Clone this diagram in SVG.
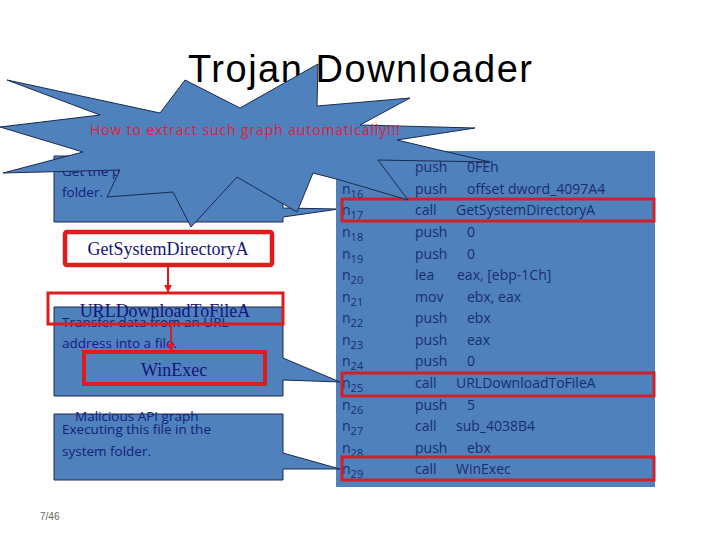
<svg xmlns="http://www.w3.org/2000/svg" width="720" height="540" viewBox="0 0 720 540">
<style>
.blue{fill:#4f81bd;stroke:#1a2a50;stroke-width:1}
.lbl{font-family:"Open Sans","Liberation Sans",Arial,sans-serif;font-size:13.5px;fill:#14207a}
.code{font-family:"Open Sans","Liberation Sans",Arial,sans-serif;font-size:14px;fill:#1b2d6e}
.api{font-family:"Liberation Serif","Times New Roman",serif;font-size:18px;fill:#14147a}
.red{fill:none;stroke:#e01b1b}
.hl{fill:none;stroke:#d0202a;stroke-width:3}
</style>
<defs><marker id="ar" viewBox="0 0 10 10" refX="9" refY="5" markerWidth="4" markerHeight="4" orient="auto"><path d="M0,0 L10,5 L0,10 Z" fill="#e01b1b"/></marker></defs>
<rect width="720" height="540" fill="#fff"/>
<text x="360" y="82" text-anchor="middle" font-family="Liberation Sans,Arial,sans-serif" font-size="38" textLength="344" fill="#000">Trojan Downloader</text>
<g id="callout1"><path class="blue" d="M54,156 H283 V208 L339,209 L283,217 V222 H54 Z"/>
<text class="lbl" x="62" y="176">Get the path of the system</text><text class="lbl" x="62" y="197">folder.</text></g>
<g id="panel"><rect x="336" y="151" width="319" height="336" fill="#4f81bd"/>
<g class="code">
<text x="415" y="172">push</text><text x="467" y="172">0FEh</text>
<text x="342" y="194">n<tspan font-size="11" dy="4">16</tspan></text><text x="415" y="194">push</text><text x="467" y="194">offset dword_4097A4</text>
<text x="342" y="215">n<tspan font-size="11" dy="4">17</tspan></text><text x="415" y="215">call</text><text x="456" y="215">GetSystemDirectoryA</text>
<text x="342" y="237">n<tspan font-size="11" dy="4">18</tspan></text><text x="415" y="237">push</text><text x="467" y="237">0</text>
<text x="342" y="259">n<tspan font-size="11" dy="4">19</tspan></text><text x="415" y="259">push</text><text x="467" y="259">0</text>
<text x="342" y="280">n<tspan font-size="11" dy="4">20</tspan></text><text x="415" y="280">lea</text><text x="457" y="280">eax, [ebp-1Ch]</text>
<text x="342" y="302">n<tspan font-size="11" dy="4">21</tspan></text><text x="415" y="302">mov</text><text x="467" y="302">ebx, eax</text>
<text x="342" y="323">n<tspan font-size="11" dy="4">22</tspan></text><text x="415" y="323">push</text><text x="467" y="323">ebx</text>
<text x="342" y="345">n<tspan font-size="11" dy="4">23</tspan></text><text x="415" y="345">push</text><text x="467" y="345">eax</text>
<text x="342" y="366">n<tspan font-size="11" dy="4">24</tspan></text><text x="415" y="366">push</text><text x="467" y="366">0</text>
<text x="342" y="388">n<tspan font-size="11" dy="4">25</tspan></text><text x="415" y="388">call</text><text x="456" y="388">URLDownloadToFileA</text>
<text x="342" y="410">n<tspan font-size="11" dy="4">26</tspan></text><text x="415" y="410">push</text><text x="467" y="410">5</text>
<text x="342" y="431">n<tspan font-size="11" dy="4">27</tspan></text><text x="415" y="431">call</text><text x="456" y="431">sub_4038B4</text>
<text x="342" y="453">n<tspan font-size="11" dy="4">28</tspan></text><text x="415" y="453">push</text><text x="467" y="453">ebx</text>
<text x="342" y="474">n<tspan font-size="11" dy="4">29</tspan></text><text x="415" y="474">call</text><text x="456" y="474">WinExec</text>
</g>
<rect class="hl" x="342" y="199" width="312" height="22"/>
<rect class="hl" x="342" y="373" width="312" height="23"/>
<rect class="hl" x="342" y="457" width="312" height="23"/>
</g>
<g id="starburst"><polygon class="blue" points="7,80 160,113 185,80 240,108 318,64 317,106 410,98 360,125 475,128 397,140 490,162 378,160 408,200 340,180 313,173 297,212 237,177 191,227 173,192 107,197 120,170 3,173 83,152 0,127 100,115"/>
<text x="90" y="135" font-family="Open Sans,Liberation Sans,Arial,sans-serif" font-size="14" textLength="310" fill="#e0203a">How to extract such graph automatically!!!</text></g>
<g id="callout2"><path class="blue" d="M54,307 H283 V358 L340,382 L283,380 V396 H54 Z"/>
<text class="lbl" x="62" y="327">Transfer data from an URL</text><text class="lbl" x="62" y="348">address into a file.</text></g>
<g id="callout3"><path class="blue" d="M54,414 H283 V453 L340,469 L283,469 V480 H54 Z"/>
<text class="lbl" x="62" y="434">Executing this file in the</text><text class="lbl" x="62" y="456">system folder.</text></g>
<text class="lbl" x="75" y="421" font-size="14">Malicious API graph</text>
<g id="n_getsys"><rect x="65" y="232" width="207" height="33" rx="2" class="red" stroke-width="4.5" fill="#fff"/><text class="api" x="168" y="255" text-anchor="middle">GetSystemDirectoryA</text></g>
<g id="n_url"><rect x="48" y="293" width="235" height="31" class="red" stroke-width="3"/><text class="api" x="165" y="317" text-anchor="middle">URLDownloadToFileA</text></g>
<g id="n_win"><rect x="84" y="352" width="181" height="32" class="red" stroke-width="4"/><text class="api" x="174" y="376" text-anchor="middle">WinExec</text></g>
<g id="edges" stroke="#e01b1b" stroke-width="2" marker-end="url(#ar)"><line x1="168" y1="267" x2="168" y2="292"/><line x1="171" y1="326" x2="171" y2="351"/></g>
<text x="40" y="520" font-family="Liberation Sans,Arial,sans-serif" font-size="10" fill="#666">7/46</text>
</svg>
